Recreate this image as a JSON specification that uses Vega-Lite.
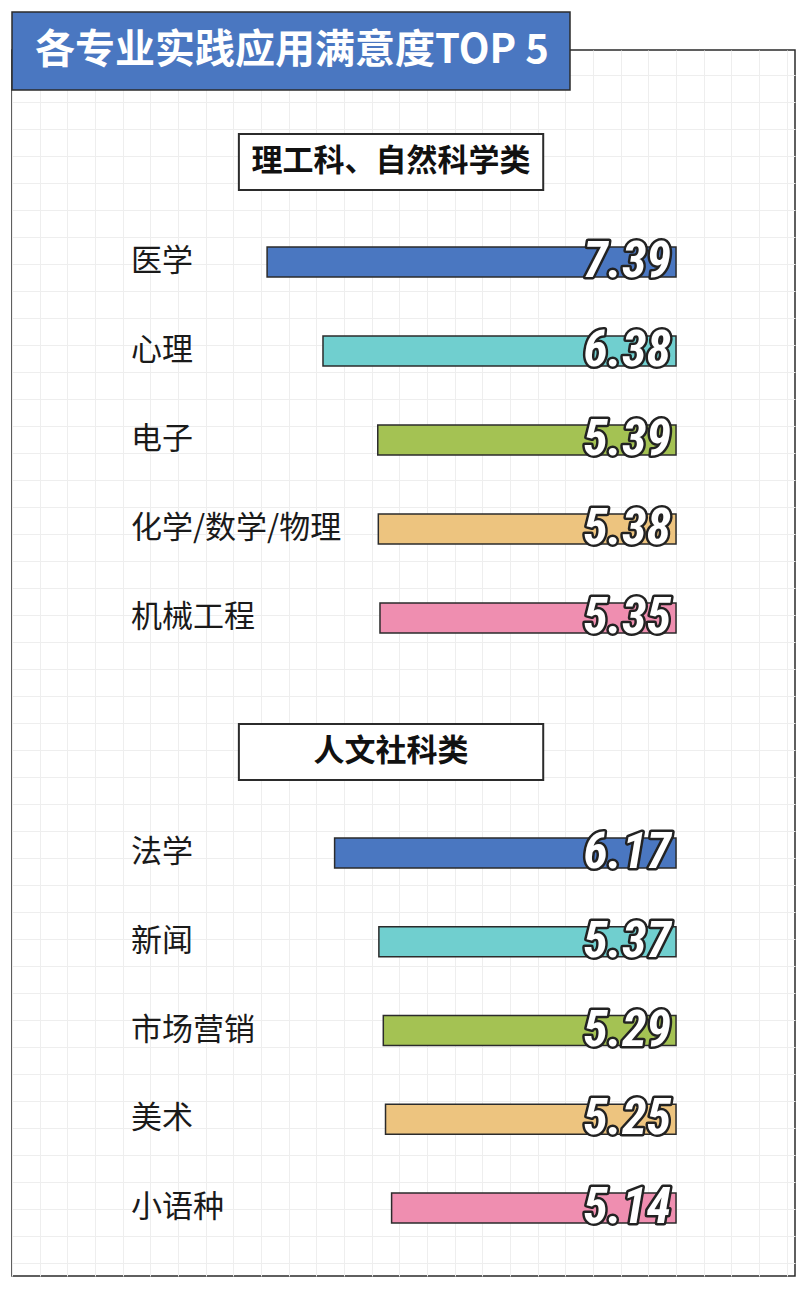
{
  "$schema": "https://vega.github.io/schema/vega-lite/v6.json",
  "width": 783,
  "height": 1226,
  "autosize": "none",
  "padding": {"left": 12, "top": 50, "right": 11, "bottom": 13},
  "background": "white",
  "datasets": {
    "majors": [
      {"group": "理工科、自然科学类", "major": "医学", "score": 7.39, "rank": 1},
      {"group": "理工科、自然科学类", "major": "心理", "score": 6.38, "rank": 2},
      {"group": "理工科、自然科学类", "major": "电子", "score": 5.39, "rank": 3},
      {"group": "理工科、自然科学类", "major": "化学/数学/物理", "score": 5.38, "rank": 4},
      {"group": "理工科、自然科学类", "major": "机械工程", "score": 5.35, "rank": 5},
      {"group": "人文社科类", "major": "法学", "score": 6.17, "rank": 1},
      {"group": "人文社科类", "major": "新闻", "score": 5.37, "rank": 2},
      {"group": "人文社科类", "major": "市场营销", "score": 5.29, "rank": 3},
      {"group": "人文社科类", "major": "美术", "score": 5.25, "rank": 4},
      {"group": "人文社科类", "major": "小语种", "score": 5.14, "rank": 5}
    ],
    "headers": [
      {"group": "理工科、自然科学类"},
      {"group": "人文社科类"}
    ],
    "titles": [
      {"title": "各专业实践应用满意度TOP 5"}
    ]
  },
  "config": {
    "view": {"stroke": "#2b2b2b", "strokeWidth": 1.5},
    "font": "Noto Sans CJK SC",
    "axis": {"labels": false, "ticks": false, "tickSize": 0, "domain": false, "grid": true, "gridColor": "#eeeeee", "gridWidth": 1},
    "axisX": {"tickCount": 30}
  },
  "resolve": {"scale": {"y": "independent"}},
  "layer": [
    {
      "data": {"name": "headers"},
      "mark": {"type": "point", "opacity": 0},
      "encoding": {
        "x": {"datum": 0, "type": "quantitative", "title": null,
          "scale": {"domain": [-2.15, 12], "reverse": true, "nice": false, "zero": false}},
        "y": {"datum": 0, "type": "quantitative", "title": null,
          "scale": {"domain": [-0.926, 44.48], "reverse": true, "nice": false, "zero": false},
          "axis": {"tickCount": 46}}
      }
    },
    {
      "data": {"name": "headers"},
      "encoding": {
        "y": {"field": "group", "type": "nominal",
          "scale": {"domain": ["理工科、自然科学类", "人文社科类"], "range": [-183, 997], "paddingInner": 0.905, "paddingOuter": 0.4525},
          "axis": null}
      },
      "layer": [
        {
          "mark": {"type": "bar", "fill": "white", "stroke": "#2b2b2b", "strokeWidth": 2},
          "encoding": {
            "x": {"datum": 7.9, "type": "quantitative", "title": null},
            "x2": {"datum": 2.4}
          }
        },
        {
          "mark": {"type": "text", "fontSize": 31, "fontWeight": "bold", "fill": "#111111", "align": "center", "baseline": "middle"},
          "encoding": {
            "x": {"datum": 5.15, "type": "quantitative", "title": null},
            "text": {"field": "group"}
          }
        }
      ]
    },
    {
      "data": {"name": "majors"},
      "transform": [{"filter": "datum.group === '理工科、自然科学类'"}],
      "encoding": {
        "y": {"field": "major", "type": "nominal",
          "scale": {"domain": ["医学", "心理", "电子", "化学/数学/物理", "机械工程"], "range": [167.5, 612.5], "paddingInner": 0.663, "paddingOuter": 0.3315},
          "axis": null}
      },
      "layer": [
        {
          "mark": {"type": "bar", "stroke": "#2b2b2b", "strokeWidth": 1.5},
          "encoding": {
            "x": {"field": "score", "type": "quantitative", "title": null},
            "x2": {"datum": 0},
            "color": {"field": "rank", "type": "ordinal", "legend": null,
              "scale": {"domain": [1, 2, 3, 4, 5], "range": ["#4a77c1", "#70cfcf", "#a4c253", "#edc47f", "#ef8eb0"]}}
          }
        },
        {
          "mark": {"type": "text", "align": "left", "baseline": "middle", "fontSize": 31, "fill": "#1a1a1a"},
          "encoding": {
            "x": {"datum": 9.85, "type": "quantitative", "title": null},
            "text": {"field": "major"}
          }
        },
        {
          "mark": {"type": "text", "align": "right", "baseline": "alphabetic", "dx": -5, "dy": 15, "font": "Roboto Condensed, DejaVu Sans Condensed, Liberation Sans", "fontStyle": "italic", "fontWeight": "bold", "fontSize": 50, "fill": "#222222", "stroke": "#222222", "strokeWidth": 5, "strokeJoin": "round"},
          "encoding": {
            "x": {"datum": 0, "type": "quantitative", "title": null},
            "text": {"field": "score", "format": ".2f"}
          }
        },
        {
          "mark": {"type": "text", "align": "right", "baseline": "alphabetic", "dx": -5, "dy": 15, "font": "Roboto Condensed, DejaVu Sans Condensed, Liberation Sans", "fontStyle": "italic", "fontWeight": "bold", "fontSize": 50, "fill": "white"},
          "encoding": {
            "x": {"datum": 0, "type": "quantitative", "title": null},
            "text": {"field": "score", "format": ".2f"}
          }
        }
      ]
    },
    {
      "data": {"name": "majors"},
      "transform": [{"filter": "datum.group === '人文社科类'"}],
      "encoding": {
        "y": {"field": "major", "type": "nominal",
          "scale": {"domain": ["法学", "新闻", "市场营销", "美术", "小语种"], "range": [758.6, 1202.4], "paddingInner": 0.663, "paddingOuter": 0.3315},
          "axis": null}
      },
      "layer": [
        {
          "mark": {"type": "bar", "stroke": "#2b2b2b", "strokeWidth": 1.5},
          "encoding": {
            "x": {"field": "score", "type": "quantitative", "title": null},
            "x2": {"datum": 0},
            "color": {"field": "rank", "type": "ordinal", "legend": null,
              "scale": {"domain": [1, 2, 3, 4, 5], "range": ["#4a77c1", "#70cfcf", "#a4c253", "#edc47f", "#ef8eb0"]}}
          }
        },
        {
          "mark": {"type": "text", "align": "left", "baseline": "middle", "fontSize": 31, "fill": "#1a1a1a"},
          "encoding": {
            "x": {"datum": 9.85, "type": "quantitative", "title": null},
            "text": {"field": "major"}
          }
        },
        {
          "mark": {"type": "text", "align": "right", "baseline": "alphabetic", "dx": -5, "dy": 15, "font": "Roboto Condensed, DejaVu Sans Condensed, Liberation Sans", "fontStyle": "italic", "fontWeight": "bold", "fontSize": 50, "fill": "#222222", "stroke": "#222222", "strokeWidth": 5, "strokeJoin": "round"},
          "encoding": {
            "x": {"datum": 0, "type": "quantitative", "title": null},
            "text": {"field": "score", "format": ".2f"}
          }
        },
        {
          "mark": {"type": "text", "align": "right", "baseline": "alphabetic", "dx": -5, "dy": 15, "font": "Roboto Condensed, DejaVu Sans Condensed, Liberation Sans", "fontStyle": "italic", "fontWeight": "bold", "fontSize": 50, "fill": "white"},
          "encoding": {
            "x": {"datum": 0, "type": "quantitative", "title": null},
            "text": {"field": "score", "format": ".2f"}
          }
        }
      ]
    },
    {
      "data": {"name": "titles"},
      "encoding": {
        "y": {"field": "title", "type": "nominal",
          "scale": {"domain": ["各专业实践应用满意度TOP 5"], "range": [-38, 40], "paddingInner": 0, "paddingOuter": 0},
          "axis": null}
      },
      "layer": [
        {
          "mark": {"type": "bar", "fill": "#4a77c1", "stroke": "#2b2b2b", "strokeWidth": 1.5},
          "encoding": {
            "x": {"datum": 12, "type": "quantitative", "title": null},
            "x2": {"datum": 1.916}
          }
        },
        {
          "mark": {"type": "text", "align": "left", "baseline": "middle", "fontSize": 40, "fontWeight": "bold", "fill": "white"},
          "encoding": {
            "x": {"datum": 11.584, "type": "quantitative", "title": null},
            "text": {"field": "title"}
          }
        }
      ]
    }
  ]
}
